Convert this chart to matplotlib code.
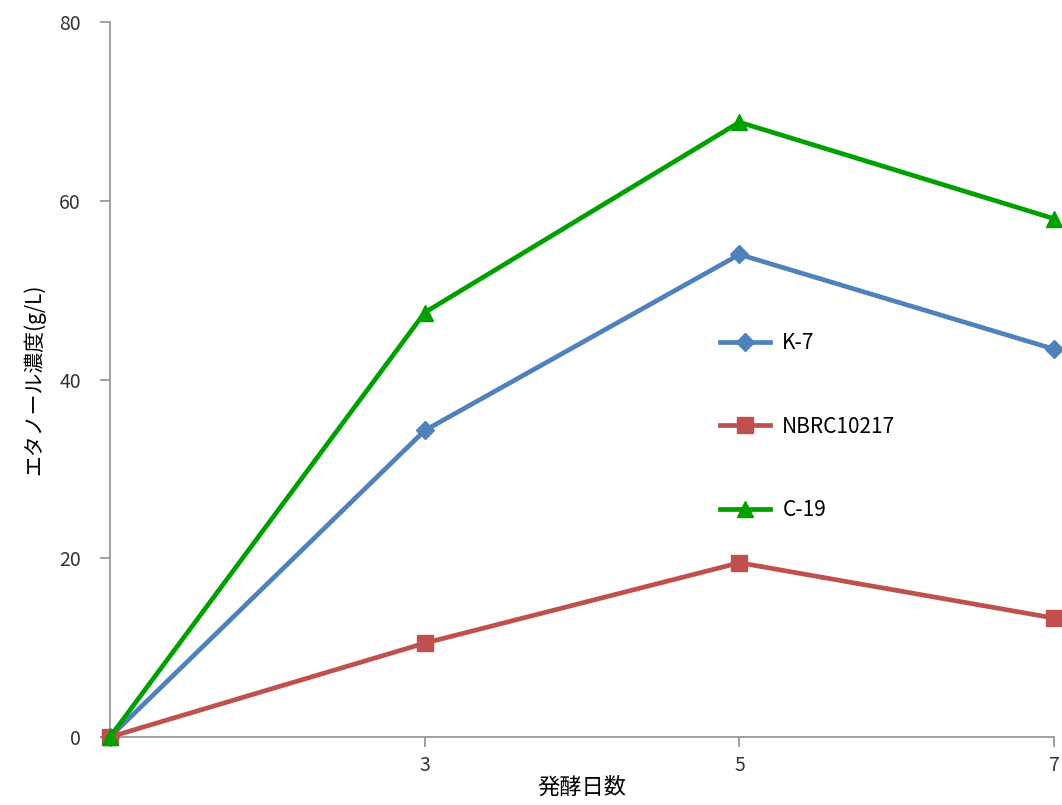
import matplotlib
matplotlib.use("Agg")
import matplotlib.pyplot as plt

plt.rcParams['font.family'] = ['Noto Sans CJK JP', 'DejaVu Sans']

# 発酵日数とエタノール濃度 (g/L)
days = [1, 3, 5, 7]
k7 = [0, 34.3, 54.0, 43.4]
nbrc = [0, 10.5, 19.5, 13.3]
c19 = [0, 47.5, 68.8, 58.0]
xticks = [3, 5, 7]
yticks = [0, 20, 40, 60, 80]

fig = plt.figure(figsize=(10.62, 8.05), dpi=100)
ax = fig.add_axes([0.1036, 0.0845, 0.889, 0.888])

ax.plot(days, k7, color='#4F81BD', lw=3.4, marker='D', ms=9, label='K-7', clip_on=False, zorder=3)
ax.plot(days, nbrc, color='#C0504D', lw=3.4, marker='s', ms=11, label='NBRC10217', clip_on=False, zorder=3)
ax.plot(days, c19, color='#00A000', lw=3.4, marker='^', ms=12, label='C-19', clip_on=False, zorder=4)

ax.set_xlim(1, 7)
ax.set_ylim(0, 80)
ax.set_xticks(xticks)
ax.set_yticks(yticks)
for s in ['top', 'right']:
    ax.spines[s].set_visible(False)
for s in ['left', 'bottom']:
    ax.spines[s].set_color('#999999')
    ax.spines[s].set_linewidth(1.3)
ax.tick_params(colors='#999999', labelcolor='#333333', labelsize=14, length=7, width=1.3)
ax.tick_params(axis='y', pad=14)
ax.tick_params(axis='x', pad=6)

ax.set_ylabel('エタノール濃度(g/L)', fontsize=15, labelpad=10)
ax.set_xlabel('発酵日数', fontsize=16, labelpad=0)

ax.legend(loc='center left', bbox_to_anchor=(0.626, 0.434), frameon=False,
          fontsize=15, labelspacing=2.95, handlelength=2.4, handletextpad=0.6)

fig.savefig('out.png', dpi=100)
